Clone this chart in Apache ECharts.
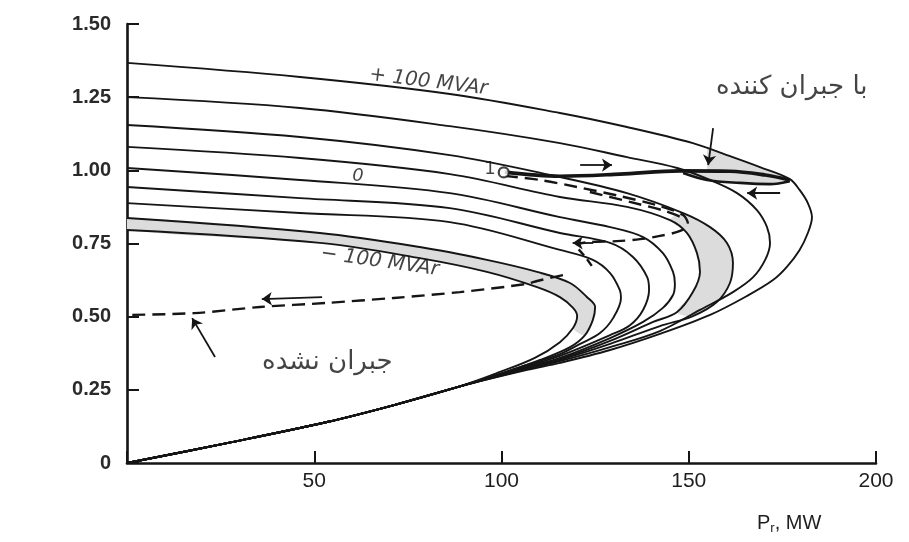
<!DOCTYPE html>
<html>
<head>
<meta charset="utf-8">
<script src="https://cdn.jsdelivr.net/npm/echarts/dist/echarts.min.js"></script>
<style>
  html, body { margin: 0; padding: 0; background: #ffffff; }
  #chart { width: 909px; height: 542px; }
</style>
</head>
<body>
<div id="chart"></div>
<script>
// Receiving-end voltage (p.u.) against received power P_r (MW)
// for shunt reactive injections from +100 to -100 MVAr.
const xTicks = [0, 50, 100, 150, 200];
const yTicks = [0, 0.25, 0.5, 0.75, 1.0, 1.25, 1.5];

// Common lower (unstable) branch shared by every curve, nose -> origin
const lowerBranch = [[88.9,0.262],[71.3,0.198],[53.4,0.140],[26.7,0.068],[0,0]];

// Upper branch, nose and start of lower branch, one array per MVAr setting
const curvePlus100 = [[0,1.367],[46.2,1.319],[86.2,1.261],[115.6,1.196],[133.5,1.148],[151.1,1.093],[160.2,1.052],[169.0,1.011],[177.0,0.970],[179.6,0.933],[181.8,0.888],[182.9,0.840],[181.8,0.786],[179.6,0.728],[176.2,0.670],[172.5,0.625],[165.6,0.571],[155.7,0.506],[142.3,0.441],[129.0,0.386],[115.6,0.342],[106.8,0.318]];
const curvePlus75 = [[0,1.250],[46.2,1.213],[86.2,1.151],[115.6,1.093],[133.5,1.045],[146.9,1.008],[155.7,0.967],[162.9,0.922],[168.2,0.864],[170.9,0.806],[171.7,0.752],[170.4,0.694],[167.2,0.635],[161.8,0.584],[153.0,0.523],[142.3,0.451],[129.0,0.396],[115.6,0.348],[106.8,0.321]];
const curvePlus50 = [[0,1.155],[46.2,1.114],[86.2,1.052],[115.6,0.977],[133.5,0.922],[148.5,0.854],[155.7,0.806],[160.2,0.752],[161.8,0.683],[161.0,0.615],[157.5,0.550],[151.1,0.502],[142.3,0.468],[129.0,0.407],[115.6,0.352],[106.8,0.325]];
const curvePlus25 = [[0,1.080],[46.2,1.042],[86.2,0.987],[115.6,0.909],[133.5,0.875],[145.0,0.830],[149.5,0.786],[152.2,0.717],[153.0,0.653],[151.1,0.584],[146.9,0.516],[140.5,0.482],[129.0,0.417],[115.6,0.355],[106.8,0.326]];
const curveZero = [[0,1.008],[46.2,0.967],[86.2,0.922],[115.6,0.840],[129.0,0.806],[137.8,0.772],[143.1,0.717],[145.8,0.653],[146.3,0.612],[145.8,0.574],[143.1,0.530],[137.8,0.482],[129.0,0.427],[115.6,0.359],[106.8,0.328]];
const curveMinus25 = [[0,0.943],[46.2,0.905],[86.2,0.871],[115.6,0.786],[129.0,0.752],[135.1,0.704],[138.9,0.635],[139.4,0.591],[137.8,0.523],[134.3,0.471],[129.0,0.437],[115.6,0.366],[106.8,0.331]];
const curveMinus50 = [[0,0.888],[46.2,0.854],[86.2,0.823],[115.6,0.728],[124.4,0.694],[129.0,0.649],[131.6,0.591],[131.9,0.564],[129.8,0.495],[126.3,0.444],[121.0,0.407],[115.6,0.372],[106.8,0.335]];
const curveMinus75 = [[0,0.837],[51.5,0.786],[78.2,0.738],[96.1,0.694],[109.5,0.653],[118.3,0.615],[122.8,0.567],[125.0,0.533],[124.4,0.489],[122.3,0.437],[118.3,0.396],[110.3,0.352],[99.6,0.304]];
const curveMinus100 = [[0,0.796],[51.5,0.752],[78.2,0.700],[96.1,0.653],[109.5,0.601],[115.6,0.567],[119.1,0.530],[120.2,0.502],[119.1,0.461],[115.6,0.413],[108.9,0.359],[99.6,0.311]];

// Operating path with compensation (out along the top, back underneath)
const compensatedOut = [[100.9,0.994],[115.6,0.980],[131.6,0.987],[147.7,0.998],[161.0,0.997],[170.4,0.984],[177.0,0.967]];
const compensatedBack = [[177.0,0.963],[171.7,0.953],[163.7,0.957],[154.9,0.967],[148.5,0.991]];
const compensatedWedge = [[154.9,1.076],[160.2,1.052],[169.0,1.011],[177.0,0.970],[170.4,0.984],[161.0,0.997],[154.9,0.999]];

// Operating path without compensation
const uncompensatedOut = [[100.9,0.981],[110.3,0.967],[120.2,0.943],[131.6,0.912],[142.3,0.878],[148.5,0.847],[149.8,0.817],[147.7,0.793],[142.3,0.776],[137.0,0.765],[130.8,0.758],[123.6,0.755],[119.9,0.748]];
const uncompensatedTwin = [[123.6,0.926],[134.3,0.892],[143.7,0.861],[148.5,0.837]];
const uncompensatedDrop = [[120.6,0.730],[122.8,0.697],[124.6,0.664]];
const uncompensatedCollapse = [[116.4,0.642],[109.5,0.622],[106.8,0.612],[88.9,0.584],[71.3,0.564],[53.4,0.547],[35.5,0.533],[17.9,0.512],[0,0.506]];

// Pointer arrows [from, to]
const arrowSegments = [
  [[156.5,1.144],[155.2,1.018]],
  [[23.5,0.362],[17.4,0.495]],
  [[121.0,1.018],[129.5,1.018]],
  [[174.4,0.922],[165.6,0.922]],
  [[124.5,0.752],[119.0,0.752]],
  [[52.1,0.567],[36.0,0.560]]
];

// Start point of both operating paths
const startPoint = [[100.6,0.993]];

const allCurves = [curvePlus100, curvePlus75, curvePlus50, curvePlus25, curveZero,
                   curveMinus25, curveMinus50, curveMinus75, curveMinus100];

// Shaded regions built from the curve arrays
const bandLow = curveMinus75.slice(0, 10).concat(curveMinus100.slice(0, 9).reverse());
const bandNose = curvePlus50.slice(5, 12).concat(curvePlus25.slice(5, 11).reverse());
const bandReturn = compensatedOut.slice(3).concat(compensatedBack.slice(1));

const INK = '#151515';
const SHADE = '#dcdcdc';

function polygonSeries(points, smooth) {
  return {
    type: 'custom',
    z: 1,
    silent: true,
    clip: true,
    data: [[0, 0]],
    renderItem: function (params, api) {
      return {
        type: 'polygon',
        shape: { points: points.map(function (p) { return api.coord(p); }), smooth: smooth },
        style: { fill: SHADE, stroke: null }
      };
    }
  };
}

function solid(data, width) {
  return {
    type: 'line', data: data, z: 3, smooth: 0.35, symbol: 'none', silent: true,
    lineStyle: { color: INK, width: width }
  };
}

function dashed(data) {
  return {
    type: 'line', data: data, z: 3, smooth: 0.3, symbol: 'none', silent: true,
    lineStyle: { color: INK, width: 2.4, type: [13, 7] }
  };
}

const series = [
  polygonSeries(bandLow, 0.3),
  polygonSeries(bandNose, 0.3),
  polygonSeries(compensatedWedge, 0),
  polygonSeries(bandReturn, 0)
];
allCurves.forEach(function (c) { series.push(solid(c.concat(lowerBranch), 1.9)); });
series.push(solid(compensatedOut, 3.6));
series.push(solid(compensatedBack, 2.6));
series.push(dashed(uncompensatedOut));
series.push(dashed(uncompensatedTwin));
series.push({
  type: 'line', data: uncompensatedDrop, z: 3, smooth: 0.3, symbol: 'none', silent: true,
  lineStyle: { color: INK, width: 2.4, type: [8, 5] }
});
series.push(dashed(uncompensatedCollapse));
series.push({
  type: 'lines', coordinateSystem: 'cartesian2d', z: 4, silent: true,
  symbol: ['none', 'arrow'], symbolSize: 10,
  lineStyle: { color: INK, width: 1.8, opacity: 1 },
  data: arrowSegments.map(function (s) { return { coords: s }; })
});
series.push({
  type: 'scatter', data: startPoint, z: 5, silent: true,
  symbol: 'circle', symbolSize: 10,
  itemStyle: { color: '#ffffff', borderColor: INK, borderWidth: 2.2 }
});

// Text annotations anchored in data space
const latin = 'Liberation Sans';
const wide = 'DejaVu Sans';
const annotations = [
  { at: [80.5, 1.302], text: '+ 100 MVAr', rotate: -7, size: 20, family: wide, style: 'italic', weight: 'normal' },
  { at: [67.5, 0.688], text: '\u2212 100 MVAr', rotate: -8, size: 20, family: wide, style: 'italic', weight: 'normal' },
  { at: [61.7, 0.980], text: '0', rotate: 0, size: 18, family: wide, style: 'italic', weight: 'normal' },
  { at: [96.9, 1.003], text: '1', rotate: 0, size: 18, family: wide, style: 'normal', weight: 'normal' },
  { at: [177.5, 1.285], text: 'با جبران کننده', rotate: 0, size: 26, family: wide, style: 'normal', weight: 'normal' },
  { at: [53.5, 0.343], text: 'جبران نشده', rotate: 0, size: 26, family: wide, style: 'normal', weight: 'normal' }
];
series.push({
  type: 'scatter', z: 6, silent: true, symbolSize: 0,
  data: annotations.map(function (a) {
    return {
      value: a.at,
      label: {
        show: true, position: 'inside', formatter: a.text, rotate: a.rotate,
        fontSize: a.size, fontFamily: a.family, fontStyle: a.style,
        fontWeight: a.weight, color: INK
      }
    };
  })
});

const chart = echarts.init(document.getElementById('chart'), null, { renderer: 'canvas' });
chart.setOption({
  animation: false,
  backgroundColor: '#ffffff',
  grid: { left: 127, right: 33, top: 24, bottom: 79, containLabel: false },
  xAxis: {
    type: 'value', min: xTicks[0], max: xTicks[xTicks.length - 1], interval: 50,
    splitLine: { show: false },
    axisLine: { lineStyle: { color: INK, width: 2.6 } },
    axisTick: { inside: true, length: 12, lineStyle: { color: INK, width: 2 } },
    axisLabel: {
      margin: 8, fontSize: 21, color: '#1e1e1e', fontFamily: latin,
      formatter: function (v) { return v === 0 ? '' : String(v); }
    }
  },
  yAxis: {
    type: 'value', min: yTicks[0], max: yTicks[yTicks.length - 1], interval: 0.25,
    splitLine: { show: false },
    axisLine: { show: true, lineStyle: { color: INK, width: 2.6 } },
    axisTick: { show: true, inside: true, length: 12, lineStyle: { color: INK, width: 2 } },
    axisLabel: {
      margin: 16, fontSize: 20, fontWeight: 'bold', color: '#2a2a2a', fontFamily: latin,
      formatter: function (v) { return v === 0 ? '0' : v.toFixed(2); }
    }
  },
  graphic: [{
    type: 'text', left: 757, top: 513, silent: true,
    style: {
      text: '{p|P}{s|r}{p|, MW}',
      rich: {
        p: { fontSize: 20, fontFamily: latin, fill: '#1e1e1e' },
        s: { fontSize: 13, fontFamily: latin, fill: '#1e1e1e', padding: [10, 0, 0, 0] }
      }
    }
  }],
  series: series
});
</script>
</body>
</html>
